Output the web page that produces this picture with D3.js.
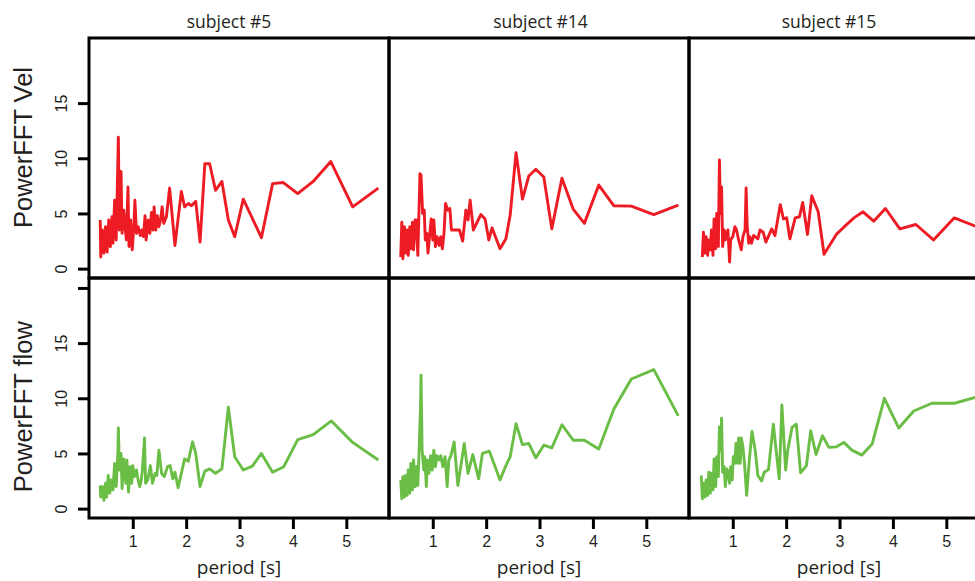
<!DOCTYPE html>
<html>
<head>
<meta charset="utf-8">
<script src="https://cdn.jsdelivr.net/npm/d3@7"></script>
<style>
  body { margin: 0; background: #fff; }
  svg { display: block; }
  .num { font-family: "Liberation Sans", Arial, sans-serif; font-size: 16px; fill: #231f20; }
  .ylab { font-family: "Liberation Sans", Arial, sans-serif; font-size: 25.5px; fill: #231f20; }
  .title { font-family: "Open Sans", sans-serif; font-size: 17.5px; fill: #231f20; }
  .xlab { font-family: "Open Sans", sans-serif; font-size: 19px; fill: #231f20; }
</style>
</head>
<body>
<svg width="975" height="581"></svg>
<script>
// FFT power vs period, 3 subjects x 2 signals

var subjects = ["subject #5", "subject #14", "subject #15"];
var rowLabels = ["PowerFFT Vel", "PowerFFT flow"];
var xTicks = [1, 2, 3, 4, 5];
var yTicks = [0, 5, 10, 15];

// subject #5
var s5VelPeriod = [0.39,0.40,0.43,0.46,0.49,0.52,0.55,0.58,0.61,0.63,0.66,0.69,0.73,0.75,0.78,0.80,0.83,0.85,0.88,0.91,0.93,0.96,0.99,1.02,1.04,1.07,1.10,1.14,1.17,1.20,1.23,1.25,1.29,1.32,1.35,1.38,1.40,1.43,1.46,1.49,1.52,1.55,1.58,1.63,1.69,1.79,1.91,1.97,2.04,2.10,2.18,2.26,2.35,2.44,2.55,2.67,2.79,2.91,3.07,3.41,3.62,3.82,4.09,4.38,4.71,5.12,5.60];
var s5VelPower = [4.4,1.05,3.5,1.4,3.8,1.5,4.4,2.0,4.7,2.3,6.2,2.6,11.9,3.5,8.8,3.2,5.3,4.1,2.6,7.4,2.0,4.4,1.7,3.8,6.2,3.2,3.8,3.0,3.5,2.9,4.8,2.6,4.4,3.2,5.1,3.5,5.6,3.5,4.8,3.8,4.4,5.6,4.1,4.7,7.3,2.1,7.0,5.6,5.9,5.7,6.1,2.4,9.5,9.5,7.1,7.9,4.4,2.9,6.3,2.8,7.7,7.8,6.8,7.9,9.7,5.6,7.3];
var s5FlowPeriod = [0.39,0.40,0.43,0.46,0.49,0.51,0.54,0.57,0.60,0.63,0.66,0.69,0.72,0.73,0.75,0.78,0.80,0.83,0.87,0.89,0.92,0.95,0.98,1.00,1.03,1.07,1.10,1.13,1.16,1.18,1.22,1.24,1.28,1.33,1.37,1.42,1.45,1.49,1.54,1.59,1.65,1.70,1.75,1.79,1.85,1.97,2.04,2.12,2.18,2.26,2.35,2.44,2.55,2.67,2.79,2.91,3.07,3.24,3.41,3.62,3.83,4.09,4.38,4.72,5.12,5.60];
var s5FlowPower = [2.1,1.05,2.0,0.75,2.3,1.05,3.0,1.4,2.6,1.7,4.1,2.0,5.0,7.3,3.5,5.0,1.8,4.5,2.3,4.4,1.5,3.8,2.3,3.9,2.9,3.5,2.6,2.0,2.6,3.5,6.4,2.3,2.6,3.9,2.3,3.2,3.0,5.3,3.2,2.9,3.8,3.9,2.7,3.3,1.9,4.5,4.3,6.05,5.0,2.0,3.4,3.6,3.2,3.6,9.2,4.7,3.5,3.85,5.0,3.3,3.8,6.25,6.7,7.95,6.0,4.4];

// subject #14
var s14VelPeriod = [0.40,0.42,0.44,0.47,0.49,0.52,0.54,0.57,0.59,0.62,0.64,0.67,0.69,0.72,0.76,0.78,0.81,0.84,0.86,0.89,0.91,0.94,0.97,1.00,1.02,1.05,1.08,1.12,1.15,1.18,1.21,1.24,1.28,1.32,1.35,1.43,1.50,1.56,1.62,1.66,1.70,1.76,1.90,1.98,2.05,2.11,2.26,2.37,2.45,2.56,2.68,2.80,2.93,3.08,3.23,3.42,3.63,3.84,4.11,4.39,4.72,5.14,5.60];
var s14VelPower = [1.05,4.2,0.9,3.8,1.4,3.5,1.2,3.8,1.8,4.2,1.7,4.4,4.4,1.2,8.6,8.5,5.0,5.3,2.6,3.2,1.4,2.9,4.5,2.6,4.4,2.0,2.9,2.1,2.9,1.8,3.2,5.9,5.3,5.45,3.5,3.5,3.5,2.5,5.3,4.4,6.2,3.5,4.9,4.5,2.6,3.7,1.8,2.7,4.85,10.5,6.3,8.4,9.0,8.3,3.6,8.2,5.4,4.1,7.57,5.7,5.66,4.9,5.75];
var s14FlowPeriod = [0.40,0.42,0.44,0.47,0.49,0.52,0.54,0.57,0.59,0.62,0.64,0.67,0.69,0.72,0.74,0.77,0.78,0.80,0.83,0.85,0.88,0.90,0.93,0.96,0.99,1.02,1.05,1.08,1.12,1.15,1.19,1.23,1.27,1.30,1.34,1.40,1.47,1.59,1.66,1.75,1.86,1.93,2.06,2.26,2.37,2.45,2.56,2.68,2.80,2.93,3.08,3.23,3.42,3.63,3.84,4.11,4.39,4.72,5.14,5.60];
var s14FlowPower = [2.6,0.9,2.9,1.05,3.0,1.2,3.5,1.4,4.1,1.7,4.4,2.0,3.8,2.1,4.7,9.1,12.1,5.3,3.5,4.7,2.0,4.4,3.2,4.8,3.5,5.3,3.8,4.8,4.4,4.8,3.8,4.7,2.0,4.4,4.8,6.05,2.1,5.9,3.2,4.9,2.7,5.0,5.2,2.6,3.9,4.7,7.7,5.8,5.9,4.6,5.75,5.5,7.6,6.2,6.2,5.4,9.0,11.75,12.6,8.4];

// subject #15
var s15VelPeriod = [0.43,0.45,0.48,0.50,0.53,0.55,0.58,0.60,0.63,0.65,0.68,0.70,0.73,0.75,0.77,0.79,0.81,0.84,0.86,0.89,0.91,0.94,0.96,1.00,1.04,1.07,1.11,1.16,1.19,1.23,1.25,1.27,1.30,1.32,1.35,1.39,1.42,1.47,1.51,1.57,1.62,1.73,1.79,1.89,1.95,2.01,2.07,2.17,2.25,2.31,2.40,2.48,2.60,2.71,2.94,3.09,3.27,3.44,3.64,3.86,4.13,4.43,4.76,5.15,5.60];
var s15VelPower = [1.05,3.3,1.4,2.9,1.2,2.6,1.7,3.5,1.2,4.5,1.8,5.0,2.0,9.85,5.0,7.4,2.0,3.5,2.6,3.2,3.5,0.6,2.6,2.9,3.8,3.5,2.6,1.7,2.9,3.5,7.3,3.8,2.3,2.9,2.3,3.0,2.9,2.7,3.5,3.3,2.4,3.6,3.0,5.8,4.5,4.6,2.7,4.6,4.7,6.0,3.1,6.6,5.15,1.3,3.1,3.8,4.6,5.15,4.3,5.45,3.6,4.0,2.6,4.6,3.75];
var s15FlowPeriod = [0.41,0.43,0.45,0.48,0.50,0.53,0.55,0.58,0.60,0.63,0.65,0.68,0.70,0.73,0.75,0.77,0.79,0.81,0.84,0.86,0.89,0.91,0.94,0.96,0.99,1.01,1.04,1.06,1.09,1.11,1.14,1.16,1.19,1.22,1.26,1.31,1.36,1.42,1.47,1.54,1.59,1.67,1.76,1.87,1.92,1.99,2.03,2.11,2.19,2.27,2.38,2.46,2.56,2.68,2.80,2.94,3.08,3.23,3.42,3.61,3.84,4.11,4.39,4.73,5.15,5.60];
var s15FlowPower = [3.0,0.9,2.3,1.05,2.6,1.2,3.3,1.4,3.2,1.7,4.5,2.0,4.7,2.9,7.4,5.3,8.2,3.3,3.8,2.0,3.6,3.3,2.3,3.8,2.6,4.7,4.1,5.9,4.1,6.4,4.1,6.4,5.6,4.1,1.2,4.4,7.0,5.3,3.0,2.5,3.3,3.55,7.65,2.7,9.4,3.5,5.3,7.35,7.65,3.25,3.9,7.05,4.9,6.6,5.55,5.6,6.0,5.3,4.85,5.85,10.0,7.3,8.85,9.55,9.55,10.15];

var rowColors = ["#ed1c24", "#6abd45"];

var panels = [
  { row: 0, col: 0, period: s5VelPeriod, power: s5VelPower },
  { row: 0, col: 1, period: s14VelPeriod, power: s14VelPower },
  { row: 0, col: 2, period: s15VelPeriod, power: s15VelPower },
  { row: 1, col: 0, period: s5FlowPeriod, power: s5FlowPower },
  { row: 1, col: 1, period: s14FlowPeriod, power: s14FlowPower },
  { row: 1, col: 2, period: s15FlowPeriod, power: s15FlowPower }
];

var svg = d3.select("svg");
// note: "top" is reserved on window, so use other names
var padLeft = 89, padTop = 38, cellW = 300, cellH = 240;
var titleShift = [-10, 1.5, -10];

var x = d3.scaleLinear().domain([0.18, 5.80]).range([0, cellW]);
var y = d3.scaleLinear().domain([-0.85, 20.9]).range([cellH, 0]);

var line = d3.line()
  .x(function(d) { return x(d[0]); })
  .y(function(d) { return y(d[1]); });

panels.forEach(function(p) {
  var g = svg.append("g")
    .attr("transform", "translate(" + (padLeft + p.col * cellW) + "," + (padTop + p.row * cellH) + ")");
  var pts = d3.zip(p.period, p.power);
  g.append("path")
    .datum(pts)
    .attr("d", line)
    .attr("fill", "none")
    .attr("stroke", rowColors[p.row])
    .attr("stroke-width", 2.9)
    .attr("stroke-linejoin", "round");
});

// frames
for (var r = 0; r < 2; r++) {
  for (var c = 0; c < 3; c++) {
    svg.append("rect")
      .attr("x", padLeft + c * cellW)
      .attr("y", padTop + r * cellH)
      .attr("width", cellW)
      .attr("height", cellH)
      .attr("fill", "none")
      .attr("stroke", "#000")
      .attr("stroke-width", 3);
  }
}

// y axes (left column only)
rowLabels.forEach(function(lab, r) {
  var ticks = r === 1 ? yTicks.concat([20]) : yTicks;
  var ax = d3.axisLeft(y)
    .tickValues(ticks)
    .tickSize(11)
    .tickPadding(5)
    .tickFormat(function(d) { return d === 20 ? "" : d; });
  var g = svg.append("g")
    .attr("transform", "translate(" + padLeft + "," + (padTop + r * cellH) + ")")
    .call(ax);
  g.select(".domain").remove();
  g.selectAll(".tick line").attr("stroke", "#000").attr("stroke-width", 3);
  g.selectAll(".tick text")
    .attr("class", "num")
    .attr("x", null).attr("dy", null)
    .attr("text-anchor", "middle")
    .attr("transform", "translate(-22,0) rotate(-90)");

  svg.append("text")
    .attr("class", "ylab")
    .attr("text-anchor", "middle")
    .attr("transform", "translate(31.5," + (r === 0 ? 147.5 : 406.7) + ") rotate(-90)")
    .text(lab);
});

// x axes and titles
subjects.forEach(function(s, c) {
  var ax = d3.axisBottom(x)
    .tickValues(xTicks)
    .tickFormat(d3.format("d"))
    .tickSize(11)
    .tickPadding(8);
  var g = svg.append("g")
    .attr("transform", "translate(" + (padLeft + c * cellW) + "," + (padTop + 2 * cellH) + ")")
    .call(ax);
  g.select(".domain").remove();
  g.selectAll(".tick line").attr("stroke", "#000").attr("stroke-width", 3);
  g.selectAll(".tick text").attr("class", "num").attr("dy", null).attr("y", 29);

  svg.append("text")
    .attr("class", "xlab")
    .attr("text-anchor", "middle")
    .attr("x", padLeft + c * cellW + cellW / 2)
    .attr("y", 574)
    .text("period [s]");

  svg.append("text")
    .attr("class", "title")
    .attr("text-anchor", "middle")
    .attr("x", padLeft + c * cellW + cellW / 2 + titleShift[c])
    .attr("y", 27.5)
    .text(s);
});
</script>
</body>
</html>
